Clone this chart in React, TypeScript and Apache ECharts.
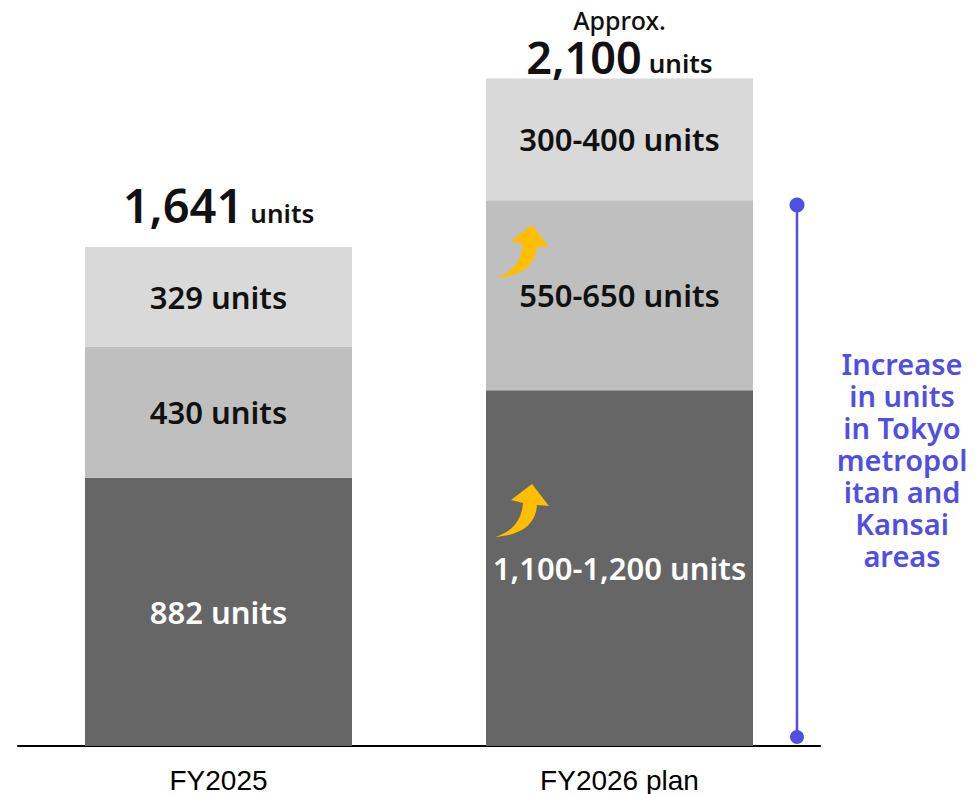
import React, { useEffect, useRef } from "react";
import * as echarts from "echarts";

// Unit counts per year, stacked from bottom to top
const categories = ["FY2025", "FY2026 plan"];
const tokyoKansaiBase = [882, 1170];
const tokyoKansaiAdded = [430, 625];
const otherAreas = [329, 400];

const baseLabels = ["882 units", "1,100-1,200 units"];
const addedLabels = ["430 units", "550-650 units"];
const otherLabels = ["329 units", "300-400 units"];
const totalNumbers = ["1,641", "2,100"];
const totalSizes = [47, 45];
const totalPrefix = ["", "Approx."];

const noteLines = ["Increase", "in units", "in Tokyo", "metropol", "itan and", "Kansai", "areas"];

const FONT = "'Noto Sans', sans-serif";
const PURPLE = "#4f4fe3";
const ARROW = "#ffbf00";

// Curved "rising" arrow outline, built from two quadratic edges
type Pt = [number, number];
function quad(p0: Pt, c: Pt, p1: Pt, n: number): Pt[] {
  const out: Pt[] = [];
  for (let i = 1; i <= n; i++) {
    const t = i / n;
    const a = (1 - t) * (1 - t), b = 2 * (1 - t) * t, d = t * t;
    out.push([a * p0[0] + b * c[0] + d * p1[0], a * p0[1] + b * c[1] + d * p1[1]]);
  }
  return out;
}
function arrowPoints(ox: number, oy: number): Pt[] {
  const pts: Pt[] = [[37, 0], [54, 22], [42, 21]];
  pts.push(...quad([42, 21], [40, 50], [0, 53], 16));
  pts.push(...quad([0, 53], [26, 45], [28, 19], 16));
  pts.push([16, 16]);
  return pts.map(([x, y]) => [x + ox, y + oy] as Pt);
}

export default function App() {
  const ref = useRef<HTMLDivElement>(null);

  useEffect(() => {
    if (!ref.current) return;
    const chart = echarts.init(ref.current, undefined, { renderer: "svg" });

    const segLabel = (texts: string[], color: string) => ({
      show: true,
      position: "inside",
      color,
      fontFamily: FONT,
      fontSize: 31,
      fontWeight: 600,
      formatter: (p: any) => texts[p.dataIndex],
    });

    chart.setOption({
      animation: false,
      grid: { left: 18, right: 158, top: 77, bottom: 48 },
      xAxis: {
        type: "category",
        data: categories,
        axisTick: { show: false },
        axisLine: { lineStyle: { color: "#000", width: 2 } },
        axisLabel: {
          color: "#000",
          fontFamily: "'Liberation Sans', Arial, sans-serif",
          fontSize: 28,
          lineHeight: 26,
          margin: 21,
        },
      },
      yAxis: { type: "value", min: 0, max: 2200, show: false },
      series: [
        {
          type: "bar",
          stack: "units",
          barWidth: 267,
          data: tokyoKansaiBase,
          itemStyle: { color: "#666666" },
          label: segLabel(baseLabels, "#ffffff"),
        },
        {
          type: "bar",
          stack: "units",
          data: tokyoKansaiAdded,
          itemStyle: { color: "#bfbfbf" },
          label: segLabel(addedLabels, "#111111"),
        },
        {
          type: "bar",
          stack: "units",
          data: otherAreas,
          itemStyle: { color: "#d9d9d9" },
          label: segLabel(otherLabels, "#111111"),
        },
        {
          type: "bar",
          stack: "units",
          data: totalNumbers.map((n, i) => ({
            value: 0,
            label: {
              distance: i === 0 ? 18 : 0,
              formatter: (totalPrefix[i] ? `{a|${totalPrefix[i]}}\n` : "") + `{n${i}|${n}}{u|units}`,
            },
          })),
          itemStyle: { color: "transparent" },
          label: {
            show: true,
            position: "top",
            rich: {
              a: { fontFamily: FONT, fontSize: 25, fontWeight: 500, color: "#111", lineHeight: 28 },
              n0: { fontFamily: FONT, fontSize: totalSizes[0], fontWeight: 600, color: "#111", verticalAlign: "bottom" },
              n1: { fontFamily: FONT, fontSize: totalSizes[1], fontWeight: 600, color: "#111", verticalAlign: "bottom" },
              u: { fontFamily: FONT, fontSize: 26, fontWeight: 600, color: "#111", verticalAlign: "bottom", padding: [0, 0, 3, 7] },
            },
          },
        },
      ],
      graphic: [
        { type: "line", shape: { x1: 797, y1: 205, x2: 797, y2: 737 }, style: { stroke: PURPLE, lineWidth: 2.5 } },
        { type: "circle", shape: { cx: 797, cy: 205, r: 7.5 }, style: { fill: PURPLE } },
        { type: "circle", shape: { cx: 797, cy: 737, r: 7 }, style: { fill: PURPLE } },
        {
          type: "text",
          x: 902,
          y: 347,
          style: {
            text: noteLines.join("\n"),
            align: "center",
            fill: PURPLE,
            font: `600 29px ${FONT}`,
            lineHeight: 32,
          },
        },
        { type: "polygon", z: 20, shape: { points: arrowPoints(495, 225) }, style: { fill: ARROW } },
        { type: "polygon", z: 20, shape: { points: arrowPoints(495, 484) }, style: { fill: ARROW } },
      ],
    });

    return () => chart.dispose();
  }, []);

  return (
    <div
      ref={ref}
      style={{ position: "fixed", left: 0, top: 0, width: 978, height: 794, background: "#fff" }}
    />
  );
}
